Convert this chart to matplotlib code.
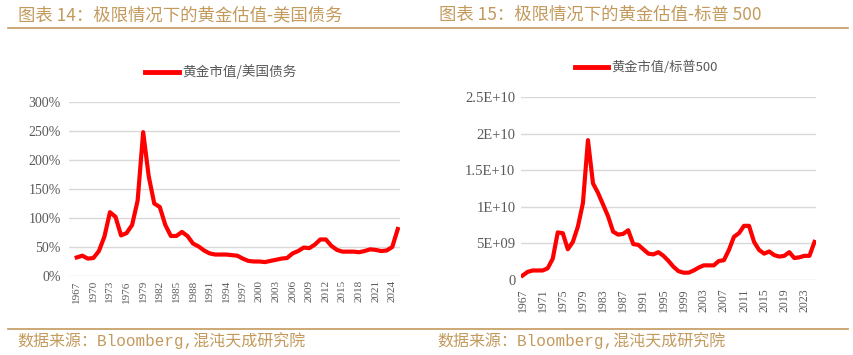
import matplotlib.pyplot as plt
from matplotlib.lines import Line2D
from matplotlib.ticker import FixedLocator, FuncFormatter

plt.rcParams['font.family'] = ['Noto Sans CJK SC', 'DejaVu Sans']

# data, 1967-2025
years = list(range(1967, 2026))
gold_vs_debt = [32, 35, 30, 31, 43, 68, 110, 102, 70, 74,
                88, 130, 248, 172, 125, 119, 88, 69, 69, 76,
                69, 56, 51, 44, 39, 37, 37, 37, 36, 35,
                30, 26, 25, 25, 24, 26, 28, 30, 31, 39,
                43, 49, 48, 54, 63, 63, 52, 45, 42, 42,
                42, 41, 43, 46, 45, 43, 44, 50, 81]  # %
gold_vs_spx = [0.6, 1.1, 1.3, 1.3, 1.3, 1.6, 2.9, 6.5, 6.4, 4.2,
               5.2, 7.3, 10.5, 19.1, 13.2, 11.9, 10.3, 8.7, 6.6, 6.2,
               6.3, 6.8, 4.9, 4.8, 4.2, 3.6, 3.5, 3.8, 3.3, 2.6,
               1.8, 1.2, 1.0, 1.0, 1.3, 1.7, 2.0, 2.0, 2.0, 2.6,
               2.7, 4.1, 5.9, 6.4, 7.4, 7.4, 5.2, 4.1, 3.6, 3.9,
               3.4, 3.2, 3.3, 3.8, 3.0, 3.1, 3.3, 3.3, 5.2]  # x1e9

left_ticks = [0, 50, 100, 150, 200, 250, 300]
right_ticks = [0, 5e9, 1e10, 1.5e10, 2e10, 2.5e10]
right_tick_labels = ['0', '5E+09', '1E+10', '1.5E+10', '2E+10', '2.5E+10']

gold = '#C39A5C'
gray = '#595959'
grid_c = '#D9D9D9'
red = '#FF0000'
serif = ['Liberation Serif', 'Noto Sans CJK SC']
mono = ['Liberation Mono', 'Noto Sans CJK SC']

fig = plt.figure(figsize=(8.54, 3.55), dpi=100)
W, H = 854, 355


def px_axes(x0, y0, x1, y1):
    return fig.add_axes([x0 / W, 1 - y1 / H, (x1 - x0) / W, (y1 - y0) / H])


def style(ax):
    for s in ax.spines.values():
        s.set_visible(False)
    ax.grid(axis='y', color=grid_c, linewidth=1)
    ax.set_axisbelow(True)
    ax.tick_params(length=0, colors=gray)
    for lab in ax.get_yticklabels():
        lab.set_family(serif)


# left chart
ax1 = px_axes(69, 102, 400, 276)
ax1.plot(years, gold_vs_debt, color=red, linewidth=3, solid_joinstyle='round')
ax1.set_ylim(0, 300)
ax1.set_xlim(1965.6, 2025.4)
ax1.yaxis.set_major_locator(FixedLocator(left_ticks))
ax1.yaxis.set_major_formatter(FuncFormatter(lambda v, p: f'{v:.0f}%'))
ax1.set_xticks(years[::3])
ax1.set_xticklabels([str(y) for y in years[::3]], rotation=90, fontsize=8,
                    family=serif, color=gray)
ax1.tick_params(axis='y', labelsize=10, pad=6)
ax1.tick_params(axis='x', pad=3)
style(ax1)

# right chart
ax2 = px_axes(521, 97, 816, 280)
ax2.plot(years, [v * 1e9 for v in gold_vs_spx], color=red, linewidth=3,
         solid_joinstyle='round')
ax2.set_ylim(0, 2.5e10)
ax2.set_xlim(1966.7, 2025.3)
ax2.yaxis.set_major_locator(FixedLocator(right_ticks))
ax2.set_yticklabels(right_tick_labels)
ax2.set_xticks(years[::4])
ax2.set_xticklabels([str(y) for y in years[::4]], rotation=90, fontsize=8.5,
                    family=serif, color=gray)
ax2.tick_params(axis='y', labelsize=10.5, pad=4)
ax2.tick_params(axis='x', pad=6)
style(ax2)

# legends drawn by hand
fig.add_artist(Line2D([145 / W, 179 / W], [1 - 72 / H] * 2, color=red, linewidth=3.5))
fig.text(182 / W, 1 - 72 / H, '黄金市值/美国债务', fontsize=9.8, color=gray, va='center')
fig.add_artist(Line2D([575 / W, 608 / W], [1 - 67 / H] * 2, color=red, linewidth=3.5))
fig.text(611 / W, 1 - 67 / H, '黄金市值/标普500', fontsize=9.5, color=gray, va='center')

# titles, rules, sources
fig.text(18 / W, 1 - 15 / H, '图表 14：极限情况下的黄金估值-美国债务', fontsize=12.5,
         color=gold, va='center')
fig.text(439 / W, 1 - 15 / H, '图表 15：极限情况下的黄金估值-标普 500', fontsize=12.5,
         color=gold, va='center')
fig.add_artist(Line2D([8 / W, 848 / W], [1 - 28 / H] * 2, color=gold, linewidth=1.2))
fig.add_artist(Line2D([8 / W, 848 / W], [1 - 329 / H] * 2, color=gold, linewidth=1.2))
fig.text(17 / W, 1 - 341 / H, '数据来源：Bloomberg,混沌天成研究院', fontsize=11.5,
         color=gold, va='center', family=mono)
fig.text(437 / W, 1 - 341 / H, '数据来源：Bloomberg,混沌天成研究院', fontsize=11.5,
         color=gold, va='center', family=mono)

fig.savefig('out.png', dpi=100)
